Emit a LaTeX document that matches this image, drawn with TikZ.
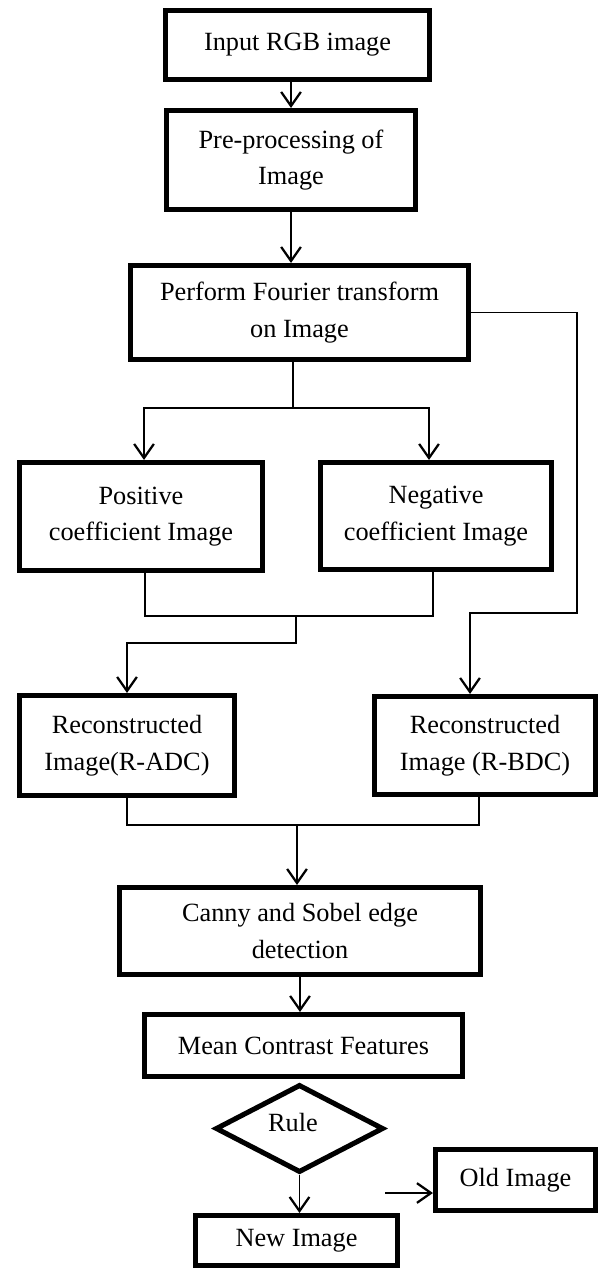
\documentclass[tikz,border=0pt]{standalone}
\usepackage{fontspec}
\setmainfont{Liberation Serif}
\usetikzlibrary{shapes.geometric, positioning, calc, arrows.meta}

\begin{document}
\begin{tikzpicture}[x=0.025cm, y=-0.025cm,
every node/.style={font=\fontsize{18.7}{26}\selectfont},
box/.style={draw, line width=3.6pt, align=center, inner sep=0pt},
arrow/.style={-{Straight Barb[length=10pt,width=14pt,line width=1.6pt]}, line width=1.4pt},
link/.style={line width=1.4pt}]
    \useasboundingbox (0,0) rectangle (600,1270);

    \node[box, minimum width=6.6cm, minimum height=1.725cm] (input) at (297.5,45) {Input RGB image};
    \node[box, minimum width=6.225cm, minimum height=2.475cm] (prep) at (291,160) {Pre-processing of\\Image};
    \node[box, minimum width=8.45cm, minimum height=2.35cm] (fourier) at (299.5,312.5) {Perform Fourier transform\\on Image};
    \node[box, minimum width=6.075cm, minimum height=2.7cm] (pos) at (141,516.5) {Positive\\coefficient Image};
    \node[box, minimum width=5.775cm, minimum height=2.675cm] (neg) at (436,516) {Negative\\coefficient Image};
    \node[box, minimum width=5.375cm, minimum height=2.5cm] (radc) at (127,745.5) {Reconstructed\\Image(R-ADC)};
    \node[box, minimum width=5.525cm, minimum height=2.45cm] (rbdc) at (485,745.5) {Reconstructed\\Image (R-BDC)};
    \node[box, minimum width=9.025cm, minimum height=2.175cm] (canny) at (300,931) {Canny and Sobel edge\\detection};
    \node[box, minimum width=7.95cm, minimum height=1.55cm] (mean) at (303.5,1045.5) {Mean Contrast Features};
    \node[box, diamond, minimum width=4.2cm, minimum height=2.2cm] (rule) at (299.5,1128.5) {};
    \node at (293,1122) {Rule};
    \node[box, minimum width=5.05cm, minimum height=1.25cm] (new) at (296.5,1240.5) {New Image};
    \node[box, minimum width=4cm, minimum height=1.525cm] (old) at (515.5,1180) {Old Image};

    % junctions of the connectors
    \coordinate (split) at (293,408);
    \coordinate (rturn) at (577,613);
    \coordinate (rbend) at (470,613);
    \coordinate (pjoin) at (296,616);
    \coordinate (pbend) at (296,643);
    \coordinate (cjoin) at (297,825);
    \coordinate (oldfrom) at (385,1193);

    \draw[arrow] (input.south -| prep.north) -- (prep.north);
    \draw[arrow] (prep.south) -- (prep.south |- fourier.north);
    \draw[link] (fourier.south -| split) -- (split);
    \draw[arrow] (split) -| ($(pos.north)+(3,0)$);
    \draw[arrow] (split) -| ($(neg.north)+(-7,0)$);
    \draw[arrow] (fourier.east) -| (rturn) -- (rbend) -- (rbend |- rbdc.north);
    \draw[link] ($(pos.south)+(4,0)$) |- (pjoin) -| ($(neg.south)+(-3,0)$);
    \draw[arrow] (pjoin) -- (pbend) -| (radc.north);
    \draw[link] (radc.south) |- (cjoin) -| ($(rbdc.south)+(-6,0)$);
    \draw[arrow] (cjoin) -- (cjoin |- canny.north);
    \draw[arrow] (canny.south) -- (canny.south |- mean.north);
    \draw[arrow] (rule.south) -- (rule.south |- new.north);
    \draw[arrow] (oldfrom) -- (oldfrom -| old.west);
\end{tikzpicture}
\end{document}
